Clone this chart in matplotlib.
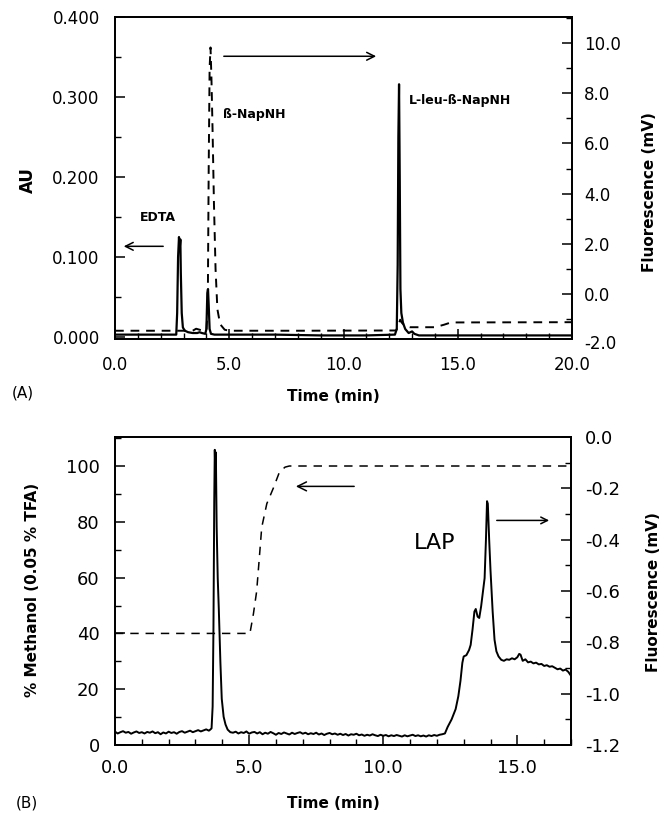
import numpy as np
import matplotlib.pyplot as plt
from matplotlib.ticker import MultipleLocator, FormatStrFormatter

plt.rcParams['font.family'] = 'DejaVu Sans'
plt.rcParams['axes.unicode_minus'] = False

# ---- panel A: absorbance (solid, left) and fluorescence (dashed, right)
t_au = [0.0, 2.68, 2.72, 2.76, 2.80, 2.83, 2.86, 2.88, 2.92, 2.97, 3.05, 3.2, 3.4,
        3.6, 3.7, 3.8, 3.95, 4.0, 4.04, 4.07, 4.10, 4.14, 4.2, 4.35, 5.0, 7.0, 9.0,
        11.0, 12.25, 12.33, 12.37, 12.40, 12.43, 12.46, 12.49, 12.53, 12.6, 12.7,
        12.85, 13.0, 13.1, 13.3, 16.0, 20.0]
au = [0.003, 0.003, 0.030, 0.100, 0.125, 0.110, 0.122, 0.080, 0.030, 0.012, 0.008,
      0.006, 0.005, 0.005, 0.006, 0.005, 0.004, 0.010, 0.055, 0.060, 0.040, 0.010,
      0.004, 0.003, 0.003, 0.003, 0.002, 0.002, 0.003, 0.010, 0.090, 0.250, 0.316,
      0.200, 0.060, 0.030, 0.018, 0.010, 0.005, 0.007, 0.004, 0.002, 0.002, 0.002]

t_fl_a = [0.0, 3.4, 3.55, 3.7, 3.85, 4.0, 4.06, 4.10, 4.14, 4.18, 4.22, 4.27, 4.33,
          4.40, 4.48, 4.6, 4.8, 5.0, 8.0, 12.3, 12.4, 12.48, 12.56, 12.7, 12.9, 14.0,
          14.4, 14.7, 20.0]
fl_a = [-1.46, -1.46, -1.38, -1.42, -1.46, -1.45, -0.5, 5.0, 9.0, 9.82, 8.6, 6.5, 3.6,
        1.0, -0.6, -1.2, -1.42, -1.46, -1.46, -1.45, -1.25, -1.02, -1.15, -1.28, -1.32,
        -1.32, -1.22, -1.13, -1.12]

# ---- panel B: methanol gradient (dashed, left) and fluorescence (solid, right)
t_meoh = [0.0, 5.03, 5.16, 5.28, 5.38, 5.47, 5.66, 5.9, 6.13, 6.34, 6.5, 17.0]
meoh = [40, 40, 47, 55, 67, 78, 86.5, 92, 97.8, 99.6, 100, 100]

# sampled trace, 0.1 min steps
t_base1 = np.round(np.arange(0.0, 3.55, 0.1), 2)
fl_base1 = [-1.148, -1.155, -1.150, -1.146, -1.152, -1.149, -1.156, -1.151, -1.147,
            -1.153, -1.150, -1.155, -1.149, -1.152, -1.147, -1.154, -1.150, -1.158,
            -1.151, -1.155, -1.148, -1.153, -1.150, -1.156, -1.149, -1.146, -1.152,
            -1.148, -1.144, -1.150, -1.146, -1.142, -1.147, -1.143, -1.139, -1.144]

t_peak = [3.55, 3.60, 3.64, 3.67, 3.70, 3.72, 3.74, 3.76, 3.79, 3.83, 3.87, 3.93,
          3.98, 4.05, 4.12, 4.2, 4.3]
fl_peak = [-1.140, -1.135, -1.05, -0.75, -0.25, -0.05, -0.14, -0.06, -0.35, -0.55,
           -0.67, -0.88, -1.02, -1.09, -1.12, -1.14, -1.150]

t_base2 = np.round(np.arange(4.4, 12.25, 0.1), 2)
fl_base2 = [-1.152, -1.148, -1.155, -1.150, -1.153, -1.147, -1.156, -1.151, -1.149, -1.155,
            -1.150, -1.158, -1.152, -1.156, -1.149, -1.154, -1.160, -1.153, -1.157, -1.151,
            -1.155, -1.159, -1.152, -1.157, -1.153, -1.150, -1.156, -1.152, -1.158, -1.154,
            -1.157, -1.152, -1.159, -1.155, -1.161, -1.156, -1.153, -1.158, -1.155, -1.160,
            -1.156, -1.161, -1.157, -1.163, -1.158, -1.160, -1.156, -1.162, -1.159, -1.164,
            -1.160, -1.163, -1.158, -1.162, -1.165, -1.160, -1.164, -1.161, -1.166, -1.162,
            -1.165, -1.161, -1.164, -1.167, -1.162, -1.166, -1.163, -1.160, -1.165, -1.162,
            -1.166, -1.163, -1.167, -1.162, -1.165, -1.161, -1.164, -1.160, -1.158]

t_lap = [12.3, 12.4, 12.55, 12.7, 12.8, 12.88, 12.95, 13.0, 13.1, 13.2, 13.26, 13.33,
         13.40, 13.45, 13.52, 13.58, 13.65, 13.72, 13.78, 13.83, 13.87, 13.9, 13.95,
         14.0, 14.08, 14.15, 14.22, 14.3, 14.4, 14.5, 14.6, 14.7, 14.8, 14.9, 15.0,
         15.07, 15.12, 15.2, 15.3, 15.4, 15.5, 15.6, 15.7, 15.8, 15.9, 16.0, 16.1,
         16.2, 16.3, 16.4, 16.5, 16.6, 16.7, 16.8, 16.9, 17.0]
fl_lap = [-1.155, -1.13, -1.10, -1.06, -1.01, -0.95, -0.88, -0.855, -0.85, -0.83, -0.81,
          -0.75, -0.68, -0.67, -0.70, -0.705, -0.66, -0.60, -0.55, -0.40, -0.25, -0.26,
          -0.40, -0.52, -0.68, -0.79, -0.835, -0.855, -0.868, -0.872, -0.866, -0.868,
          -0.862, -0.866, -0.858, -0.845, -0.848, -0.872, -0.866, -0.878, -0.875, -0.882,
          -0.879, -0.886, -0.884, -0.892, -0.889, -0.895, -0.893, -0.899, -0.905, -0.902,
          -0.910, -0.906, -0.915, -0.93]

t_fl_b = list(t_base1) + t_peak + list(t_base2) + t_lap
fl_b = fl_base1 + fl_peak + fl_base2 + fl_lap

W, H = 664, 813


def px(x, y):
    # figure fraction from pixel position (top-left origin)
    return x / W, 1 - y / H


def style_axis(ax, ymajor, yminor, side, pad, fs):
    ax.yaxis.set_major_locator(MultipleLocator(ymajor))
    ax.yaxis.set_minor_locator(MultipleLocator(yminor))
    ax.tick_params(axis='y', which='major', direction='in', length=7, width=1.1,
                   labelsize=fs, pad=pad, left=(side == 'left'), right=(side == 'right'))
    ax.tick_params(axis='y', which='minor', direction='in', length=4, width=1,
                   left=(side == 'left'), right=(side == 'right'))
    for s in ax.spines.values():
        s.set_linewidth(1.3)


fig = plt.figure(figsize=(6.64, 8.13), dpi=100)

# ---------------- (A)
ax1 = fig.add_axes([0.1732, 0.583, 0.6883, 0.396])
ax1r = ax1.twinx()
ax1.plot(t_au, au, color='black', lw=1.6)
ax1r.plot(t_fl_a, fl_a, color='black', lw=1.4, dashes=(4.5, 3.5))

ax1.set_xlim(0, 20)
ax1.set_ylim(-0.0025, 0.4)
ax1r.set_ylim(-1.79, 11.03)
ax1.xaxis.set_major_locator(MultipleLocator(5))
ax1.xaxis.set_minor_locator(MultipleLocator(1))
ax1.xaxis.set_major_formatter(FormatStrFormatter('%.1f'))
ax1.tick_params(axis='x', which='major', direction='in', length=7, width=1.1,
                labelsize=12, pad=12)
ax1.tick_params(axis='x', which='minor', direction='in', length=4, width=1)
style_axis(ax1, 0.1, 0.05, 'left', 11, 12)
style_axis(ax1r, 2, 1, 'right', 8.5, 12)
ax1.yaxis.set_major_formatter(FormatStrFormatter('%.3f'))
ax1r.yaxis.set_major_formatter(FormatStrFormatter('%.1f'))
ax1r.text(1.026, -2.0, '-2.0', transform=ax1r.get_yaxis_transform(), fontsize=12,
          ha='left', va='center', clip_on=False)

fig.text(*px(333, 396), 'Time (min)', fontsize=11, fontweight='bold', ha='center', va='center')
fig.text(*px(28, 180), 'AU', fontsize=12, fontweight='bold', rotation=90,
         ha='center', va='center')
fig.text(*px(650, 192), 'Fluorescence (mV)', fontsize=11, fontweight='bold', rotation=90,
         ha='center', va='center')

ax1.text(1.88, 0.149, 'EDTA', fontsize=9, fontweight='bold', ha='center', va='center')
ax1.text(4.73, 0.278, 'ß-NapNH', fontsize=9, fontweight='bold', ha='left', va='center')
ax1.text(12.87, 0.296, 'L-leu-ß-NapNH', fontsize=9, fontweight='bold', ha='left', va='center')
ax1.annotate('', xy=(0.26, 0.1134), xytext=(2.23, 0.1134),
             arrowprops=dict(arrowstyle='->', lw=1.1, color='black', mutation_scale=14))
ax1.annotate('', xy=(11.55, 0.351), xytext=(4.64, 0.351),
             arrowprops=dict(arrowstyle='->', lw=1.1, color='black', mutation_scale=14))
fig.text(*px(23, 393), '(A)', fontsize=11, ha='center', va='center')

# ---------------- (B)
ax2 = fig.add_axes([0.1732, 0.0836, 0.6867, 0.3789])
ax2r = ax2.twinx()
ax2.plot(t_meoh, meoh, color='black', lw=1.1, dashes=(5.5, 4.5))
ax2r.plot(t_fl_b, fl_b, color='black', lw=1.4)

ax2.set_xlim(0, 17)
ax2.set_ylim(0, 110.4)
ax2r.set_ylim(-1.2, 0.0)
ax2.xaxis.set_major_locator(MultipleLocator(5))
ax2.xaxis.set_minor_locator(MultipleLocator(1))
ax2.xaxis.set_major_formatter(FormatStrFormatter('%.1f'))
ax2.tick_params(axis='x', which='major', direction='in', length=7, width=1.1,
                labelsize=13, pad=10)
ax2.tick_params(axis='x', which='minor', direction='in', length=4, width=1)
style_axis(ax2, 20, 10, 'left', 11, 13)
style_axis(ax2r, 0.2, 0.1, 'right', 10, 13)
ax2.yaxis.set_major_formatter(FormatStrFormatter('%d'))
ax2r.yaxis.set_major_formatter(FormatStrFormatter('%.1f'))

fig.text(*px(333, 803), 'Time (min)', fontsize=11, fontweight='bold', ha='center', va='center')
fig.text(*px(33, 590), '% Methanol (0.05 % TFA)', fontsize=11, fontweight='bold',
         rotation=90, ha='center', va='center')
fig.text(*px(653, 592), 'Fluorescence (mV)', fontsize=11, fontweight='bold', rotation=90,
         ha='center', va='center')

ax2.text(11.9, 72.3, 'LAP', fontsize=16, ha='center', va='center')
ax2.annotate('', xy=(6.64, 92.7), xytext=(9.02, 92.7),
             arrowprops=dict(arrowstyle='->', lw=1.1, color='black', mutation_scale=16))
ax2.annotate('', xy=(16.29, 80.5), xytext=(14.13, 80.5),
             arrowprops=dict(arrowstyle='->', lw=1.1, color='black', mutation_scale=12))
fig.text(*px(27, 803), '(B)', fontsize=11, ha='center', va='center')

fig.savefig('out.png', dpi=100)
